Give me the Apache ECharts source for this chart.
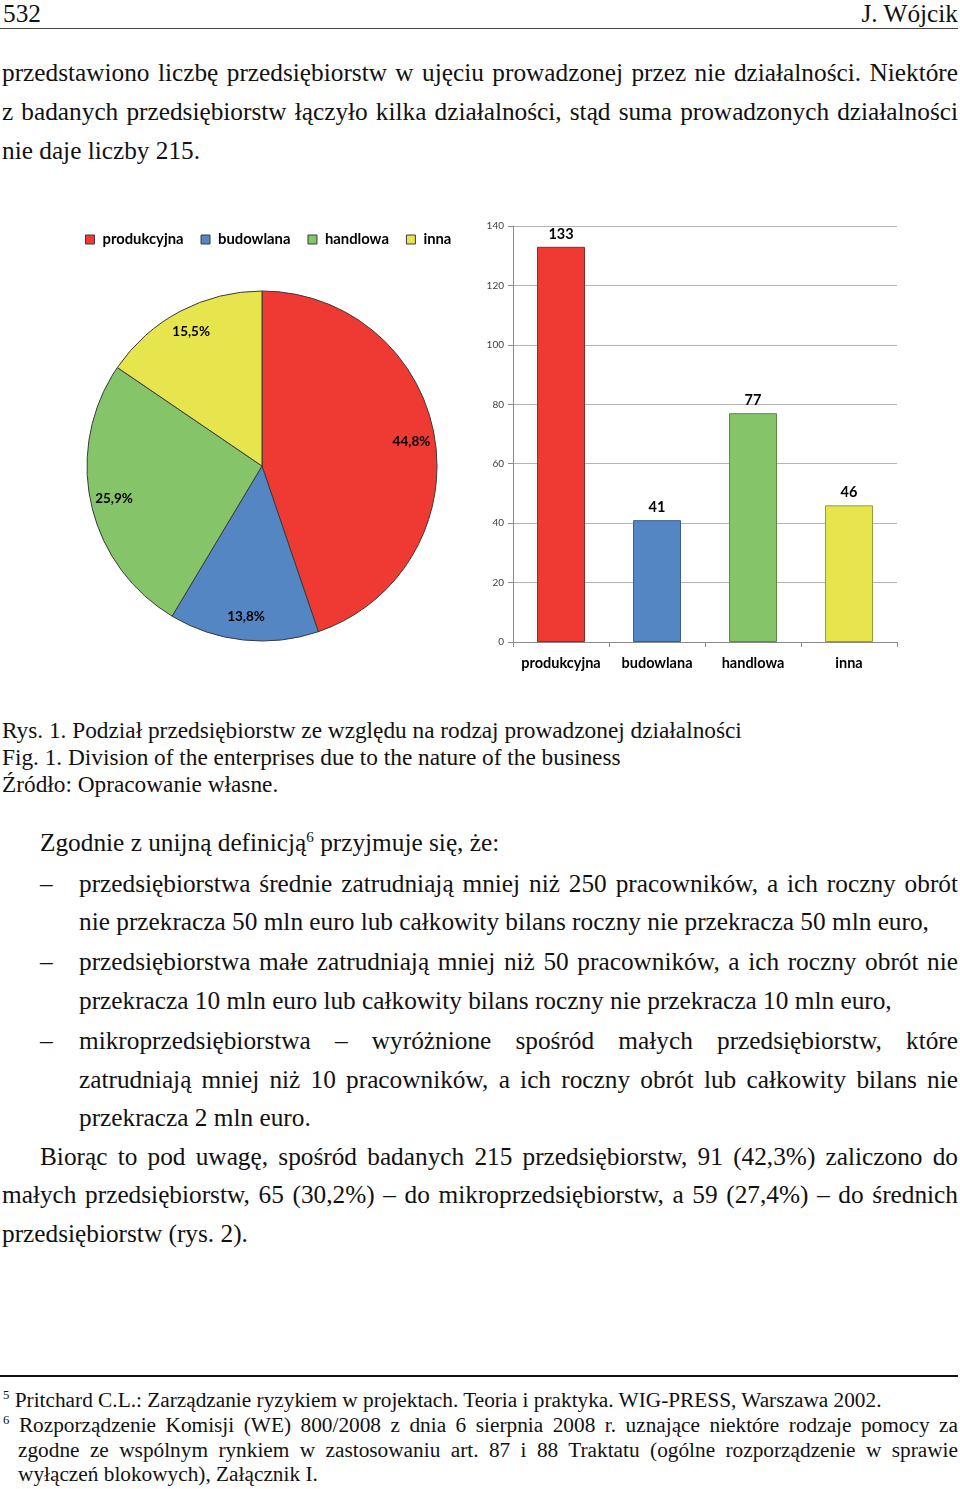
<!DOCTYPE html>
<html>
<head>
<meta charset="utf-8">
<script src="https://cdn.jsdelivr.net/npm/echarts@6/dist/echarts.min.js"></script>
<style>
  html,body{margin:0;padding:0;background:#fff;}
  #page{position:relative;width:960px;height:1489px;overflow:hidden;font-family:"Liberation Serif","Times New Roman",serif;color:#111;}
  .ln{position:absolute;white-space:nowrap;line-height:1;}
  .m{font-size:25.3px;}
  .c{font-size:23.3px;}
  .f{font-size:21.3px;}
  .sup{font-size:0.6em;position:relative;top:-0.6em;}
  #chart{position:absolute;left:0;top:200px;width:960px;height:490px;}
</style>
</head>
<body>
<div id="page">
  <div class="ln m" style="left:3px;top:1px;">532</div>
  <div class="ln m" style="right:2px;top:1px;">J. Wójcik</div>
  <div style="position:absolute;left:0;top:28px;width:958px;height:1px;background:#444;"></div>

  <div class="ln m j" data-w="956" style="left:2px;top:60px;">przedstawiono liczbę przedsiębiorstw w ujęciu prowadzonej przez nie działalności. Niektóre</div>
  <div class="ln m j" data-w="956" style="left:2px;top:99px;">z badanych przedsiębiorstw łączyło kilka działalności, stąd suma prowadzonych działalności</div>
  <div class="ln m" style="left:2px;top:138px;">nie daje liczby 215.</div>

  <div id="chart"></div>

  <div class="ln c" style="left:2px;top:719px;">Rys. 1. Podział przedsiębiorstw ze względu na rodzaj prowadzonej działalności</div>
  <div class="ln c" style="left:2px;top:746px;">Fig. 1. Division of the enterprises due to the nature of the business</div>
  <div class="ln c" style="left:2px;top:773px;">Źródło: Opracowanie własne.</div>

  <div class="ln m" style="left:40px;top:830px;">Zgodnie z unijną definicją<span class="sup">6</span> przyjmuje się, że:</div>

  <div class="ln m" style="left:40px;top:871px;">–</div>
  <div class="ln m j" data-w="879" style="left:79px;top:871px;">przedsiębiorstwa średnie zatrudniają mniej niż 250 pracowników, a ich roczny obrót</div>
  <div class="ln m" style="left:79px;top:909px;">nie przekracza 50 mln euro lub całkowity bilans roczny nie przekracza 50 mln euro,</div>
  <div class="ln m" style="left:40px;top:949px;">–</div>
  <div class="ln m j" data-w="879" style="left:79px;top:949px;">przedsiębiorstwa małe zatrudniają mniej niż 50 pracowników, a ich roczny obrót nie</div>
  <div class="ln m" style="left:79px;top:988px;">przekracza 10 mln euro lub całkowity bilans roczny nie przekracza 10 mln euro,</div>
  <div class="ln m" style="left:40px;top:1028px;">–</div>
  <div class="ln m j" data-w="879" style="left:79px;top:1028px;">mikroprzedsiębiorstwa – wyróżnione spośród małych przedsiębiorstw, które</div>
  <div class="ln m j" data-w="879" style="left:79px;top:1067px;">zatrudniają mniej niż 10 pracowników, a ich roczny obrót lub całkowity bilans nie</div>
  <div class="ln m" style="left:79px;top:1105px;">przekracza 2 mln euro.</div>

  <div class="ln m j" data-w="918" style="left:40px;top:1144px;">Biorąc to pod uwagę, spośród badanych 215 przedsiębiorstw, 91 (42,3%) zaliczono do</div>
  <div class="ln m j" data-w="956" style="left:2px;top:1182px;">małych przedsiębiorstw, 65 (30,2%) – do mikroprzedsiębiorstw, a 59 (27,4%) – do średnich</div>
  <div class="ln m" style="left:2px;top:1221px;">przedsiębiorstw (rys. 2).</div>

  <div style="position:absolute;left:0;top:1375px;width:958px;height:2px;background:#111;"></div>

  <div class="ln f" style="left:3px;top:1390px;"><span class="sup">5</span> Pritchard C.L.: Zarządzanie ryzykiem w projektach. Teoria i praktyka. WIG-PRESS, Warszawa 2002.</div>
  <div class="ln f j" data-w="955" style="left:3px;top:1415px;"><span class="sup">6</span> Rozporządzenie Komisji (WE) 800/2008 z dnia 6 sierpnia 2008 r. uznające niektóre rodzaje pomocy za</div>
  <div class="ln f j" data-w="940" style="left:18px;top:1440px;">zgodne ze wspólnym rynkiem w zastosowaniu art. 87 i 88 Traktatu (ogólne rozporządzenie w sprawie</div>
  <div class="ln f" style="left:18px;top:1464px;">wyłączeń blokowych), Załącznik I.</div>
</div>

<script>
// ---- chart data ----
const categories = ['produkcyjna', 'budowlana', 'handlowa', 'inna'];
const counts = [133, 41, 77, 46];
const colors = ['#EE3A33', '#5586C4', '#86C469', '#E6E54E'];
const borderColors = ['#8E2A25', '#3B5E8C', '#5A8A47', '#9C9A35'];
const yTicks = { min: 0, max: 140, interval: 20 };

function justify() {
  document.querySelectorAll('.j').forEach(el => {
    el.style.wordSpacing = '0px';
    const W = +el.dataset.w;
    const w = el.getBoundingClientRect().width;
    const n = (el.textContent.match(/ /g) || []).length;
    if (n) el.style.wordSpacing = ((W - w) / n) + 'px';
  });
}

const total = counts.reduce((a, b) => a + b, 0);
const pieData = categories.map((c, i) => ({
  name: c, value: counts[i],
  itemStyle: { color: colors[i], borderColor: '#3a3a3a', borderWidth: 1 }
}));
const labelData = categories.map((c, i) => ({ name: c, value: counts[i] }));

const chart = echarts.init(document.getElementById('chart'), null, { renderer: 'canvas' });
const lbl = { fontFamily: 'Lato', fontWeight: 'bold', color: '#000' };
chart.setOption({
  animation: false,
  legend: {
    left: 85, top: 32, padding: 0,
    icon: 'rect', itemWidth: 9, itemHeight: 9, itemGap: 17,
    textStyle: Object.assign({ fontSize: 14.8, padding: [0, 0, 0, 3] }, lbl),
    data: categories.map((c, i) => ({ name: c, itemStyle: { color: colors[i], borderColor: '#3a3a3a', borderWidth: 1 } })),
    selectedMode: false
  },
  grid: { left: 513, right: 63, top: 26, bottom: 48, containLabel: false },
  xAxis: {
    type: 'category', data: categories,
    axisLine: { show: true, lineStyle: { color: '#8a8a8a', width: 1 } },
    axisTick: { show: true, length: 5, interval: 0, lineStyle: { color: '#8a8a8a' } },
    axisLabel: Object.assign({ fontSize: 14.5, margin: 14, interval: 0 }, lbl),
    splitLine: { show: false }
  },
  yAxis: {
    type: 'value', min: yTicks.min, max: yTicks.max, interval: yTicks.interval,
    axisLine: { show: true, lineStyle: { color: '#8a8a8a', width: 1 } },
    axisTick: { show: true, length: 5, lineStyle: { color: '#8a8a8a' } },
    axisLabel: { fontSize: 10, fontFamily: 'Lato', color: '#404040', margin: 9 },
    splitLine: { show: true, lineStyle: { color: '#b4b4b4', width: 1 } }
  },
  series: [
    {
      type: 'pie', center: [262, 266], radius: [0, 175],
      startAngle: 90, clockwise: true, silent: true,
      label: { show: false }, labelLine: { show: false },
      data: pieData
    },
    {
      type: 'pie', center: [262, 266], radius: [122, 175],
      startAngle: 90, clockwise: true, silent: true, legendHoverLink: false,
      itemStyle: { color: 'rgba(0,0,0,0)', borderWidth: 0 },
      label: Object.assign({
        show: true, position: 'inside', fontSize: 13.5,
        formatter: p => (p.value / total * 100).toFixed(1).replace('.', ',') + '%'
      }, lbl),
      labelLine: { show: false },
      data: labelData
    },
    {
      type: 'bar', barWidth: '50%',
      data: counts.map((v, i) => ({ value: v, itemStyle: { color: colors[i], borderColor: borderColors[i], borderWidth: 1 } })),
      label: Object.assign({ show: true, position: 'top', distance: 5, fontSize: 14.5 }, lbl)
    }
  ]
});

if (document.fonts && document.fonts.ready) {
  document.fonts.ready.then(justify);
}
justify();
</script>
</body>
</html>
